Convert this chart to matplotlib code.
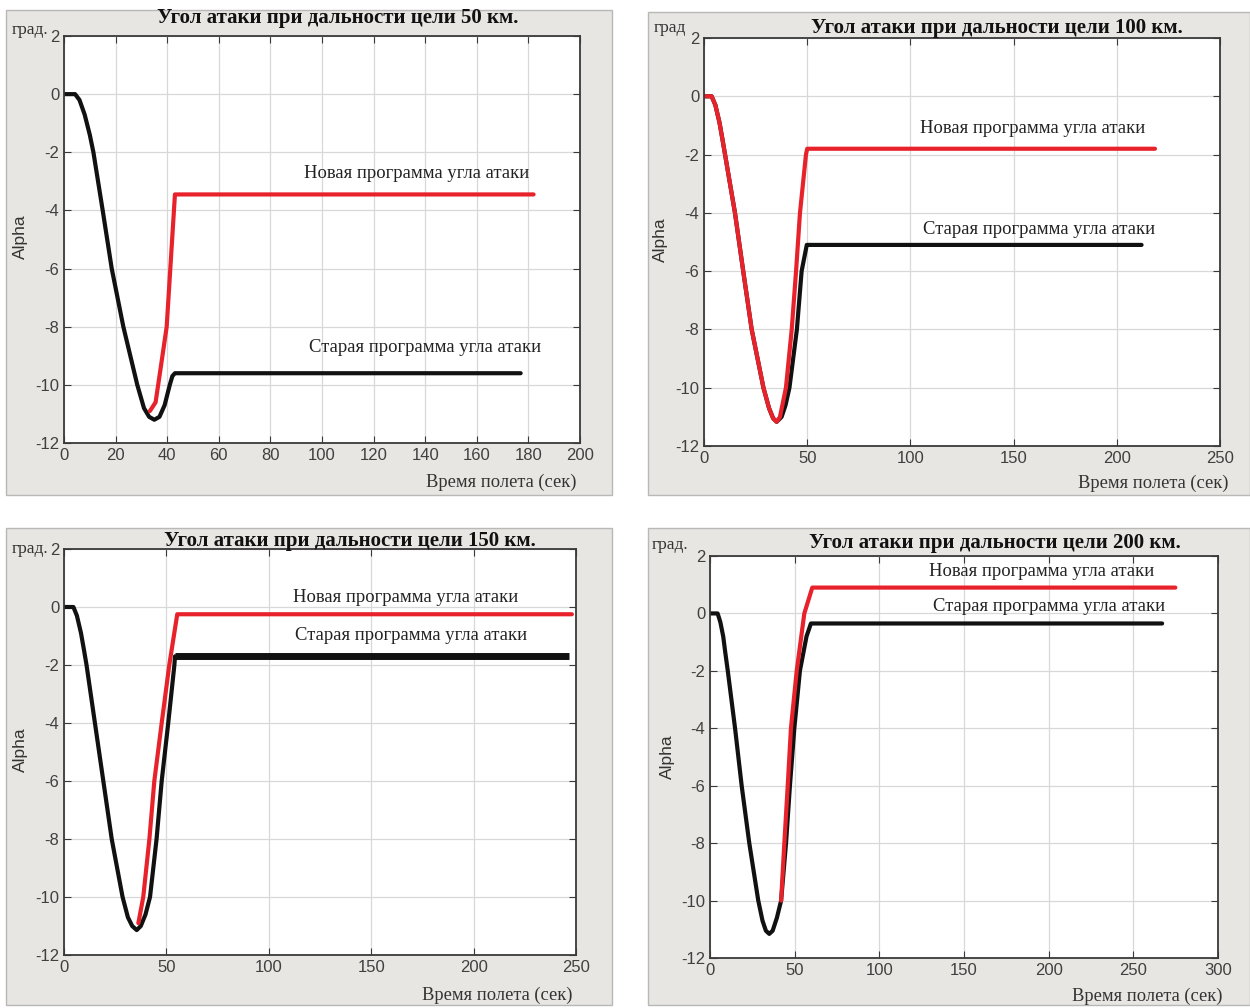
import matplotlib
matplotlib.use("Agg")
import matplotlib.pyplot as plt
from matplotlib.patches import Rectangle

plt.rcParams['font.family'] = ['Liberation Sans', 'DejaVu Sans']
plt.rcParams['axes.unicode_minus'] = False

# данные: время (сек) и угол атаки (град.)
# 50 км
t50_old = [0, 4.3, 6, 8, 10, 11.4, 15, 18.5, 23, 28.4, 31, 33, 35, 37, 39, 41, 42, 43, 177]
a50_old = [0, 0, -0.2, -0.7, -1.4, -2, -4, -6, -8, -10, -10.8, -11.1, -11.2, -11.1, -10.7, -10, -9.7, -9.6, -9.6]
t50_new = [33.3, 35.5, 37.5, 39.8, 43, 182]
a50_new = [-10.9, -10.6, -9.4, -8, -3.45, -3.45]

# 100 км
t100_new = [0, 3.7, 5.5, 7.5, 9, 10.2, 15, 19, 23.1, 28.8, 31.5, 33.5, 35.2, 36.8, 39.7, 42.5, 44.6, 46.5, 49.4, 50, 218.5]
a100_new = [0, 0, -0.3, -0.9, -1.5, -2, -4, -6, -8, -10, -10.7, -11.05, -11.17, -11.0, -10, -8, -6, -4, -2, -1.8, -1.8]
t100_old = [0, 3.7, 5.5, 7.5, 9, 10.2, 15, 19, 23.1, 28.8, 31.5, 33.5, 35.2, 37.6, 39.5, 41.4, 45, 47.3, 49.8, 212]
a100_old = [0, 0, -0.3, -0.9, -1.5, -2, -4, -6, -8, -10, -10.7, -11.05, -11.17, -11.0, -10.6, -10, -8, -6, -5.1, -5.1]

# 150 км
t150_old = [0, 4.6, 6.3, 8.3, 9.8, 11, 15.1, 19.2, 23.3, 28.6, 31.2, 33.3, 35.5, 37.5, 39.8, 42, 45.2, 47.7, 50.9, 53.9, 54.2, 246.7]
a150_old = [0, 0, -0.3, -0.9, -1.5, -2, -4, -6, -8, -10, -10.7, -11.0, -11.14, -11.0, -10.6, -10, -8, -6, -4, -2, -1.7, -1.7]
t150_new = [36.3, 38.7, 41.7, 44.1, 47.7, 51.4, 55.3, 248]
a150_new = [-10.9, -10, -8, -6, -4, -2, -0.25, -0.25]

# 200 км
t200_old = [0, 4.5, 6.1, 7.8, 9, 10.5, 14.8, 18.7, 23.2, 28.5, 31, 33, 35, 37, 39.5, 42, 44.9, 47.2, 49.8, 53.1, 57, 59.6, 267]
a200_old = [0, 0, -0.3, -0.8, -1.35, -2, -4, -6, -8, -10, -10.7, -11.05, -11.16, -11.05, -10.6, -10, -8, -6, -4, -2, -0.8, -0.35, -0.35]
t200_new = [42, 43.9, 45.9, 47.8, 51.2, 55.7, 60.4, 274.8]
a200_new = [-10, -8, -6, -4, -2, 0, 0.9, 0.9]

titles = ['Угол атаки при дальности цели 50 км.', 'Угол атаки при дальности цели 100 км.',
          'Угол атаки при дальности цели 150 км.', 'Угол атаки при дальности цели 200 км.']
xmax = [200, 250, 250, 300]
xstep = [20, 50, 50, 50]
new_label = 'Новая программа угла атаки'
old_label = 'Старая программа угла атаки'

W, H = 1250, 1008
fig = plt.figure(figsize=(W / 100, H / 100), dpi=100)
fig.patch.set_facecolor('white')

def fx(px):
    return px / W

def fy(py):
    return 1 - py / H

# серые подложки панелей (пиксели: x0, y0, x1, y1)
panels = [(6, 10, 612, 495), (648, 12, 1250, 495), (6, 528, 612, 1005), (648, 528, 1250, 1005)]
for x0, y0, x1, y1 in panels:
    fig.add_artist(Rectangle((fx(x0), fy(y1)), fx(x1 - x0), (y1 - y0) / H,
                             transform=fig.transFigure, facecolor='#e8e6e2',
                             edgecolor='#b8b8b8', lw=1.0, zorder=0))

# рамки осей (пиксели: left, top, right, bottom)
boxes = [(64, 36, 580, 443), (704, 38, 1220, 446), (64, 549, 576, 955), (710, 556, 1218, 958)]
axes = []
for (l, t, r, b) in boxes:
    ax = fig.add_axes([fx(l), fy(b), fx(r - l), (b - t) / H])
    axes.append(ax)

series = [
    [(t50_old, a50_old, 'black'), (t50_new, a50_new, 'red')],
    [(t100_old, a100_old, 'black'), (t100_new, a100_new, 'red')],
    [(t150_old, a150_old, 'black'), (t150_new, a150_new, 'red')],
    [(t200_old, a200_old, 'black'), (t200_new, a200_new, 'red')],
]
colors = {'black': '#111111', 'red': '#e8222b'}

# подписи кривых в координатах данных: (x_центр, y) для новой и старой
label_pos = [((136.5, -2.72), (140, -8.72)),
             ((159, -1.1), (162.5, -4.56)),
             ((167, 0.34), (169.5, -0.97)),
             ((196, 1.46), (200, 0.24))]

for i, ax in enumerate(axes):
    ax.set_facecolor('white')
    ax.set_xlim(0, xmax[i])
    ax.set_ylim(-12, 2)
    ax.set_xticks(range(0, xmax[i] + 1, xstep[i]))
    ax.set_yticks(range(-12, 3, 2))
    ax.grid(True, color='#d8d8d8', lw=0.9)
    ax.set_axisbelow(True)
    for s in ax.spines.values():
        s.set_color('#3a3a3a')
        s.set_linewidth(1.3)
    ax.tick_params(direction='in', length=5, top=True, right=True,
                   labelsize=12, labelcolor='#404040', color='#3a3a3a')
    for t, a, c in series[i]:
        if i == 2 and c == 'black':
            # толстая горизонтальная часть на 150 км
            ax.plot(t[:-1], a[:-1], color=colors[c], lw=3, solid_capstyle='round',
                    solid_joinstyle='round')
            ax.plot(t[-2:], a[-2:], color=colors[c], lw=5, solid_capstyle='butt')
        else:
            ax.plot(t, a, color=colors[c], lw=3, solid_capstyle='round',
                    solid_joinstyle='round')
    (nx, ny), (ox, oy) = label_pos[i]
    ax.text(nx, ny, new_label, ha='center', va='center', fontsize=13.4,
            family='Liberation Serif', color='#222222')
    ax.text(ox, oy, old_label, ha='center', va='center', fontsize=13.4,
            family='Liberation Serif', color='#222222')

# заголовки, единицы, подписи осей (пиксельные позиции)
title_xy = [(338, 18), (997, 28), (350, 541), (995, 543)]
grad_xy = [(12, 30), (654, 28), (12, 549), (652, 545)]
grad_txt = ['град.', 'град', 'град.', 'град.']
alpha_xy = [(20, 237), (660, 240), (20, 750), (667, 757)]
xlab_xy = [(576, 482), (1228, 483), (572, 995), (1222, 996)]

for i in range(4):
    fig.text(fx(title_xy[i][0]), fy(title_xy[i][1]), titles[i], ha='center', va='center',
             fontsize=15, fontweight='bold', family='Liberation Serif', color='#111111')
    fig.text(fx(grad_xy[i][0]), fy(grad_xy[i][1]), grad_txt[i], ha='left', va='center',
             fontsize=12.5, family='Liberation Serif', color='#333333')
    fig.text(fx(alpha_xy[i][0]), fy(alpha_xy[i][1]), 'Alpha', ha='center', va='center',
             rotation=90, fontsize=12.5, color='#333333')
    fig.text(fx(xlab_xy[i][0]), fy(xlab_xy[i][1]), 'Время полета (сек)', ha='right', va='center',
             fontsize=13.3, family='Liberation Serif', color='#333333')

fig.savefig('out.png', dpi=100, facecolor='white')
